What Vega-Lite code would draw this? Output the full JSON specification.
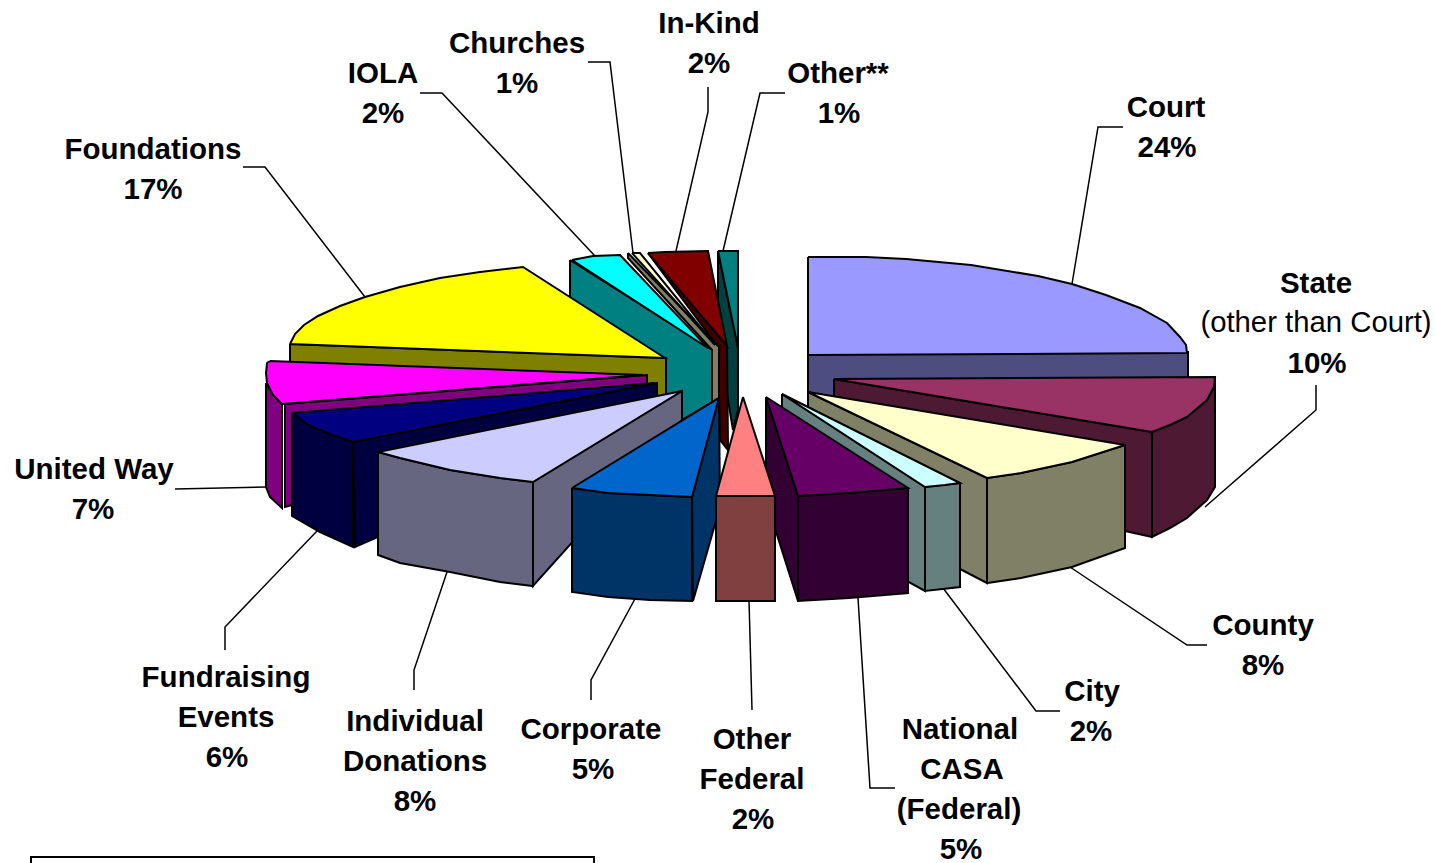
{"$schema":"https://vega.github.io/schema/vega-lite/v6.json","width":1435,"height":863,"padding":0,"autosize":"none","background":"white","view":{"stroke":null},
"datasets":{"faces":[
{"poly":"Court side","n":1,"x":808,"y":354},{"poly":"Court side","n":2,"x":1188,"y":352},{"poly":"Court side","n":3,"x":1188,"y":400},{"poly":"Court side","n":4,"x":808,"y":400},{"poly":"Court side","n":5,"x":808,"y":354},
{"poly":"Court top","n":1,"x":808,"y":257},{"poly":"Court top","n":2,"x":866,"y":257},{"poly":"Court top","n":3,"x":906,"y":259},{"poly":"Court top","n":4,"x":971,"y":265},{"poly":"Court top","n":5,"x":1038,"y":276},{"poly":"Court top","n":6,"x":1072,"y":284},{"poly":"Court top","n":7,"x":1106,"y":295},{"poly":"Court top","n":8,"x":1140,"y":308},{"poly":"Court top","n":9,"x":1167,"y":323},{"poly":"Court top","n":10,"x":1180,"y":337},{"poly":"Court top","n":11,"x":1186,"y":345},{"poly":"Court top","n":12,"x":1187,"y":353},{"poly":"Court top","n":13,"x":808,"y":355},{"poly":"Court top","n":14,"x":808,"y":257},
{"poly":"State inner","n":1,"x":834,"y":379},{"poly":"State inner","n":2,"x":1152,"y":432},{"poly":"State inner","n":3,"x":1152,"y":537},{"poly":"State inner","n":4,"x":1125,"y":531},{"poly":"State inner","n":5,"x":834,"y":450},{"poly":"State inner","n":6,"x":834,"y":379},
{"poly":"State front","n":1,"x":1152,"y":432},{"poly":"State front","n":2,"x":1170,"y":425},{"poly":"State front","n":3,"x":1187,"y":417},{"poly":"State front","n":4,"x":1207,"y":400},{"poly":"State front","n":5,"x":1214,"y":387},{"poly":"State front","n":6,"x":1215,"y":377},{"poly":"State front","n":7,"x":1215,"y":487},{"poly":"State front","n":8,"x":1207,"y":500},{"poly":"State front","n":9,"x":1187,"y":518},{"poly":"State front","n":10,"x":1170,"y":528},{"poly":"State front","n":11,"x":1152,"y":537},{"poly":"State front","n":12,"x":1152,"y":432},
{"poly":"State top","n":1,"x":834,"y":379},{"poly":"State top","n":2,"x":1215,"y":377},{"poly":"State top","n":3,"x":1214,"y":387},{"poly":"State top","n":4,"x":1207,"y":400},{"poly":"State top","n":5,"x":1187,"y":417},{"poly":"State top","n":6,"x":1170,"y":425},{"poly":"State top","n":7,"x":1152,"y":432},{"poly":"State top","n":8,"x":834,"y":379},
{"poly":"County inner","n":1,"x":808,"y":392},{"poly":"County inner","n":2,"x":987,"y":478},{"poly":"County inner","n":3,"x":987,"y":583},{"poly":"County inner","n":4,"x":960,"y":569},{"poly":"County inner","n":5,"x":808,"y":490},{"poly":"County inner","n":6,"x":808,"y":392},
{"poly":"County front","n":1,"x":987,"y":478},{"poly":"County front","n":2,"x":1021,"y":473},{"poly":"County front","n":3,"x":1072,"y":462},{"poly":"County front","n":4,"x":1125,"y":445},{"poly":"County front","n":5,"x":1125,"y":548},{"poly":"County front","n":6,"x":1072,"y":567},{"poly":"County front","n":7,"x":1021,"y":578},{"poly":"County front","n":8,"x":987,"y":583},{"poly":"County front","n":9,"x":987,"y":478},
{"poly":"County top","n":1,"x":808,"y":392},{"poly":"County top","n":2,"x":1125,"y":445},{"poly":"County top","n":3,"x":1072,"y":462},{"poly":"County top","n":4,"x":1021,"y":473},{"poly":"County top","n":5,"x":987,"y":478},{"poly":"County top","n":6,"x":808,"y":392},
{"poly":"City inner","n":1,"x":782,"y":394},{"poly":"City inner","n":2,"x":925,"y":487},{"poly":"City inner","n":3,"x":925,"y":591},{"poly":"City inner","n":4,"x":905,"y":580},{"poly":"City inner","n":5,"x":782,"y":480},{"poly":"City inner","n":6,"x":782,"y":394},
{"poly":"City front","n":1,"x":925,"y":487},{"poly":"City front","n":2,"x":960,"y":483},{"poly":"City front","n":3,"x":960,"y":587},{"poly":"City front","n":4,"x":925,"y":591},{"poly":"City front","n":5,"x":925,"y":487},
{"poly":"City top","n":1,"x":782,"y":394},{"poly":"City top","n":2,"x":960,"y":483},{"poly":"City top","n":3,"x":945,"y":485},{"poly":"City top","n":4,"x":925,"y":487},{"poly":"City top","n":5,"x":782,"y":394},
{"poly":"CASA inner","n":1,"x":766,"y":397},{"poly":"CASA inner","n":2,"x":798,"y":496},{"poly":"CASA inner","n":3,"x":798,"y":601},{"poly":"CASA inner","n":4,"x":766,"y":500},{"poly":"CASA inner","n":5,"x":766,"y":397},
{"poly":"CASA front","n":1,"x":798,"y":496},{"poly":"CASA front","n":2,"x":849,"y":493},{"poly":"CASA front","n":3,"x":908,"y":488},{"poly":"CASA front","n":4,"x":908,"y":593},{"poly":"CASA front","n":5,"x":849,"y":598},{"poly":"CASA front","n":6,"x":798,"y":601},{"poly":"CASA front","n":7,"x":798,"y":496},
{"poly":"CASA top","n":1,"x":766,"y":397},{"poly":"CASA top","n":2,"x":908,"y":488},{"poly":"CASA top","n":3,"x":849,"y":493},{"poly":"CASA top","n":4,"x":798,"y":496},{"poly":"CASA top","n":5,"x":766,"y":397},
{"poly":"Other side","n":1,"x":718,"y":251},{"poly":"Other side","n":2,"x":738,"y":348},{"poly":"Other side","n":3,"x":738,"y":410},{"poly":"Other side","n":4,"x":733,"y":430},{"poly":"Other side","n":5,"x":728,"y":400},{"poly":"Other side","n":6,"x":718,"y":350},{"poly":"Other side","n":7,"x":718,"y":251},
{"poly":"Other top","n":1,"x":718,"y":251},{"poly":"Other top","n":2,"x":738,"y":251},{"poly":"Other top","n":3,"x":738,"y":348},{"poly":"Other top","n":4,"x":718,"y":251},
{"poly":"In-Kind side","n":1,"x":648,"y":253},{"poly":"In-Kind side","n":2,"x":727,"y":346},{"poly":"In-Kind side","n":3,"x":728,"y":450},{"poly":"In-Kind side","n":4,"x":720,"y":440},{"poly":"In-Kind side","n":5,"x":718,"y":347},{"poly":"In-Kind side","n":6,"x":648,"y":253},
{"poly":"In-Kind top","n":1,"x":648,"y":253},{"poly":"In-Kind top","n":2,"x":665,"y":252},{"poly":"In-Kind top","n":3,"x":708,"y":251},{"poly":"In-Kind top","n":4,"x":727,"y":346},{"poly":"In-Kind top","n":5,"x":648,"y":253},
{"poly":"IOLA side","n":1,"x":570,"y":260},{"poly":"IOLA side","n":2,"x":712,"y":350},{"poly":"IOLA side","n":3,"x":712,"y":402},{"poly":"IOLA side","n":4,"x":682,"y":420},{"poly":"IOLA side","n":5,"x":660,"y":400},{"poly":"IOLA side","n":6,"x":570,"y":300},{"poly":"IOLA side","n":7,"x":570,"y":260},
{"poly":"IOLA top","n":1,"x":572,"y":260},{"poly":"IOLA top","n":2,"x":593,"y":256},{"poly":"IOLA top","n":3,"x":620,"y":255},{"poly":"IOLA top","n":4,"x":708,"y":348},{"poly":"IOLA top","n":5,"x":572,"y":260},
{"poly":"Churches side","n":1,"x":628,"y":253},{"poly":"Churches side","n":2,"x":719,"y":347},{"poly":"Churches side","n":3,"x":719,"y":398},{"poly":"Churches side","n":4,"x":712,"y":402},{"poly":"Churches side","n":5,"x":712,"y":350},{"poly":"Churches side","n":6,"x":628,"y":258},{"poly":"Churches side","n":7,"x":628,"y":253},
{"poly":"Churches top","n":1,"x":632,"y":253},{"poly":"Churches top","n":2,"x":640,"y":253},{"poly":"Churches top","n":3,"x":715,"y":345},{"poly":"Churches top","n":4,"x":632,"y":253},
{"poly":"Foundations side","n":1,"x":290,"y":344},{"poly":"Foundations side","n":2,"x":666,"y":358},{"poly":"Foundations side","n":3,"x":666,"y":398},{"poly":"Foundations side","n":4,"x":290,"y":380},{"poly":"Foundations side","n":5,"x":290,"y":344},
{"poly":"Foundations top","n":1,"x":290,"y":344},{"poly":"Foundations top","n":2,"x":295,"y":334},{"poly":"Foundations top","n":3,"x":304,"y":325},{"poly":"Foundations top","n":4,"x":318,"y":316},{"poly":"Foundations top","n":5,"x":340,"y":306},{"poly":"Foundations top","n":6,"x":365,"y":297},{"poly":"Foundations top","n":7,"x":400,"y":287},{"poly":"Foundations top","n":8,"x":440,"y":278},{"poly":"Foundations top","n":9,"x":480,"y":272},{"poly":"Foundations top","n":10,"x":523,"y":267},{"poly":"Foundations top","n":11,"x":665,"y":358},{"poly":"Foundations top","n":12,"x":290,"y":344},
{"poly":"United Way inner","n":1,"x":285,"y":404},{"poly":"United Way inner","n":2,"x":647,"y":375},{"poly":"United Way inner","n":3,"x":647,"y":410},{"poly":"United Way inner","n":4,"x":285,"y":507},{"poly":"United Way inner","n":5,"x":285,"y":404},
{"poly":"United Way front","n":1,"x":266,"y":383},{"poly":"United Way front","n":2,"x":273,"y":395},{"poly":"United Way front","n":3,"x":282,"y":404},{"poly":"United Way front","n":4,"x":282,"y":508},{"poly":"United Way front","n":5,"x":270,"y":497},{"poly":"United Way front","n":6,"x":266,"y":487},{"poly":"United Way front","n":7,"x":266,"y":383},
{"poly":"United Way top","n":1,"x":270,"y":361},{"poly":"United Way top","n":2,"x":643,"y":375},{"poly":"United Way top","n":3,"x":282,"y":404},{"poly":"United Way top","n":4,"x":273,"y":395},{"poly":"United Way top","n":5,"x":267,"y":383},{"poly":"United Way top","n":6,"x":266,"y":373},{"poly":"United Way top","n":7,"x":267,"y":363},{"poly":"United Way top","n":8,"x":270,"y":361},
{"poly":"Fundraising inner","n":1,"x":353,"y":442},{"poly":"Fundraising inner","n":2,"x":657,"y":383},{"poly":"Fundraising inner","n":3,"x":657,"y":415},{"poly":"Fundraising inner","n":4,"x":355,"y":547},{"poly":"Fundraising inner","n":5,"x":353,"y":442},
{"poly":"Fundraising front","n":1,"x":292,"y":413},{"poly":"Fundraising front","n":2,"x":310,"y":426},{"poly":"Fundraising front","n":3,"x":330,"y":434},{"poly":"Fundraising front","n":4,"x":353,"y":442},{"poly":"Fundraising front","n":5,"x":353,"y":547},{"poly":"Fundraising front","n":6,"x":320,"y":532},{"poly":"Fundraising front","n":7,"x":292,"y":516},{"poly":"Fundraising front","n":8,"x":292,"y":413},
{"poly":"Fundraising top","n":1,"x":292,"y":413},{"poly":"Fundraising top","n":2,"x":655,"y":383},{"poly":"Fundraising top","n":3,"x":353,"y":442},{"poly":"Fundraising top","n":4,"x":330,"y":434},{"poly":"Fundraising top","n":5,"x":310,"y":426},{"poly":"Fundraising top","n":6,"x":292,"y":413},
{"poly":"Individual inner","n":1,"x":533,"y":482},{"poly":"Individual inner","n":2,"x":682,"y":391},{"poly":"Individual inner","n":3,"x":682,"y":420},{"poly":"Individual inner","n":4,"x":533,"y":586},{"poly":"Individual inner","n":5,"x":533,"y":482},
{"poly":"Individual front","n":1,"x":378,"y":452},{"poly":"Individual front","n":2,"x":400,"y":458},{"poly":"Individual front","n":3,"x":450,"y":470},{"poly":"Individual front","n":4,"x":500,"y":478},{"poly":"Individual front","n":5,"x":533,"y":482},{"poly":"Individual front","n":6,"x":533,"y":586},{"poly":"Individual front","n":7,"x":500,"y":582},{"poly":"Individual front","n":8,"x":450,"y":572},{"poly":"Individual front","n":9,"x":400,"y":563},{"poly":"Individual front","n":10,"x":378,"y":555},{"poly":"Individual front","n":11,"x":378,"y":452},
{"poly":"Individual top","n":1,"x":378,"y":452},{"poly":"Individual top","n":2,"x":682,"y":391},{"poly":"Individual top","n":3,"x":533,"y":482},{"poly":"Individual top","n":4,"x":500,"y":478},{"poly":"Individual top","n":5,"x":450,"y":470},{"poly":"Individual top","n":6,"x":400,"y":458},{"poly":"Individual top","n":7,"x":378,"y":452},
{"poly":"Corporate inner","n":1,"x":692,"y":497},{"poly":"Corporate inner","n":2,"x":719,"y":398},{"poly":"Corporate inner","n":3,"x":720,"y":507},{"poly":"Corporate inner","n":4,"x":693,"y":601},{"poly":"Corporate inner","n":5,"x":692,"y":497},
{"poly":"Corporate front","n":1,"x":572,"y":488},{"poly":"Corporate front","n":2,"x":608,"y":493},{"poly":"Corporate front","n":3,"x":692,"y":497},{"poly":"Corporate front","n":4,"x":692,"y":601},{"poly":"Corporate front","n":5,"x":650,"y":600},{"poly":"Corporate front","n":6,"x":608,"y":597},{"poly":"Corporate front","n":7,"x":572,"y":592},{"poly":"Corporate front","n":8,"x":572,"y":488},
{"poly":"Corporate top","n":1,"x":572,"y":488},{"poly":"Corporate top","n":2,"x":719,"y":398},{"poly":"Corporate top","n":3,"x":692,"y":497},{"poly":"Corporate top","n":4,"x":608,"y":493},{"poly":"Corporate top","n":5,"x":572,"y":488},
{"poly":"Other Federal front","n":1,"x":716,"y":496},{"poly":"Other Federal front","n":2,"x":775,"y":496},{"poly":"Other Federal front","n":3,"x":775,"y":601},{"poly":"Other Federal front","n":4,"x":716,"y":601},{"poly":"Other Federal front","n":5,"x":716,"y":496},
{"poly":"Other Federal top","n":1,"x":743,"y":397},{"poly":"Other Federal top","n":2,"x":775,"y":496},{"poly":"Other Federal top","n":3,"x":716,"y":496},{"poly":"Other Federal top","n":4,"x":743,"y":397}
],
"leaders":[
{"lead":"Court","n":1,"x":1123,"y":127},{"lead":"Court","n":2,"x":1098,"y":127},{"lead":"Court","n":3,"x":1072,"y":284},
{"lead":"State","n":1,"x":1316,"y":385},{"lead":"State","n":2,"x":1316,"y":410},{"lead":"State","n":3,"x":1205,"y":507},
{"lead":"County","n":1,"x":1207,"y":645},{"lead":"County","n":2,"x":1187,"y":645},{"lead":"County","n":3,"x":1070,"y":567},
{"lead":"City","n":1,"x":1060,"y":711},{"lead":"City","n":2,"x":1036,"y":711},{"lead":"City","n":3,"x":943,"y":588},
{"lead":"CASA","n":1,"x":895,"y":788},{"lead":"CASA","n":2,"x":870,"y":788},{"lead":"CASA","n":3,"x":858,"y":598},
{"lead":"Other Federal","n":1,"x":752,"y":710},{"lead":"Other Federal","n":2,"x":749,"y":600},
{"lead":"Corporate","n":1,"x":591,"y":700},{"lead":"Corporate","n":2,"x":591,"y":680},{"lead":"Corporate","n":3,"x":636,"y":597},
{"lead":"Individual","n":1,"x":414,"y":690},{"lead":"Individual","n":2,"x":414,"y":670},{"lead":"Individual","n":3,"x":447,"y":572},
{"lead":"Fundraising","n":1,"x":225,"y":650},{"lead":"Fundraising","n":2,"x":225,"y":627},{"lead":"Fundraising","n":3,"x":317,"y":531},
{"lead":"United Way","n":1,"x":175,"y":489},{"lead":"United Way","n":2,"x":266,"y":487},
{"lead":"Foundations","n":1,"x":243,"y":167},{"lead":"Foundations","n":2,"x":265,"y":167},{"lead":"Foundations","n":3,"x":365,"y":297},
{"lead":"IOLA","n":1,"x":420,"y":93},{"lead":"IOLA","n":2,"x":442,"y":93},{"lead":"IOLA","n":3,"x":595,"y":256},
{"lead":"Churches","n":1,"x":588,"y":62},{"lead":"Churches","n":2,"x":610,"y":62},{"lead":"Churches","n":3,"x":633,"y":253},
{"lead":"In-Kind","n":1,"x":708,"y":87},{"lead":"In-Kind","n":2,"x":708,"y":112},{"lead":"In-Kind","n":3,"x":676,"y":251},
{"lead":"Other","n":1,"x":785,"y":93},{"lead":"Other","n":2,"x":760,"y":93},{"lead":"Other","n":3,"x":723,"y":251}
],
"box":[{"n":1,"x":31,"y":866},{"n":2,"x":31,"y":857},{"n":3,"x":594,"y":857},{"n":4,"x":594,"y":866}],
"labels":[
{"t":"Court","x":1166,"y":117},{"t":"24%","x":1167,"y":157},{"t":"State","x":1316,"y":293},{"t":"10%","x":1317,"y":373},{"t":"County","x":1263,"y":635},{"t":"8%","x":1263,"y":675},{"t":"City","x":1092,"y":701},{"t":"2%","x":1091,"y":741},{"t":"National","x":960,"y":739},{"t":"CASA","x":962,"y":779},{"t":"(Federal)","x":959,"y":819},{"t":"5%","x":961,"y":859},{"t":"Other","x":752,"y":749},{"t":"Federal","x":752,"y":789},{"t":"2%","x":753,"y":829},{"t":"Corporate","x":591,"y":739},{"t":"5%","x":593,"y":779},{"t":"Individual","x":415,"y":731},{"t":"Donations","x":415,"y":771},{"t":"8%","x":415,"y":811},{"t":"Fundraising","x":226,"y":687},{"t":"Events","x":226,"y":727},{"t":"6%","x":227,"y":767},{"t":"United Way","x":94,"y":479},{"t":"7%","x":93,"y":519},{"t":"Foundations","x":153,"y":159},{"t":"17%","x":153,"y":199},{"t":"IOLA","x":383,"y":83},{"t":"2%","x":383,"y":123},{"t":"Churches","x":517,"y":53},{"t":"1%","x":517,"y":93},{"t":"In-Kind","x":709,"y":33},{"t":"2%","x":709,"y":73},{"t":"Other**","x":838,"y":83},{"t":"1%","x":839,"y":123}
],
"plainlabels":[{"t":"(other than Court)","x":1316,"y":332}]
},
"encoding":{"x":{"field":"x","type":"quantitative","axis":null,"scale":{"domain":[0,1435],"nice":false,"zero":false}},"y":{"field":"y","type":"quantitative","axis":null,"scale":{"domain":[863,0],"nice":false,"zero":false}}},
"layer":[
{"data":{"name":"leaders"},"mark":{"type":"line","stroke":"black","strokeWidth":1.5},"encoding":{"detail":{"field":"lead"},"order":{"field":"n","type":"quantitative"}}},
{"data":{"name":"faces"},"mark":{"type":"line","stroke":"black","strokeWidth":2,"strokeJoin":"miter"},"encoding":{"order":{"field":"n","type":"quantitative"},"fill":{"field":"poly","type":"nominal","legend":null,"sort":null,"scale":{"domain":["Court side","Court top","State inner","State front","State top","County inner","County front","County top","City inner","City front","City top","CASA inner","CASA front","CASA top","Other side","Other top","In-Kind side","In-Kind top","IOLA side","IOLA top","Churches side","Churches top","Foundations side","Foundations top","United Way inner","United Way front","United Way top","Fundraising inner","Fundraising front","Fundraising top","Individual inner","Individual front","Individual top","Corporate inner","Corporate front","Corporate top","Other Federal front","Other Federal top"],"range":["#4D4D80","#9999FF","#4D1933","#4D1933","#993366","#808066","#808066","#FFFFCC","#668080","#668080","#CCFFFF","#330033","#330033","#660066","#004040","#008080","#400000","#800000","#008080","#00FFFF","#808066","#FFFFCC","#808000","#FFFF00","#800080","#800080","#FF00FF","#000040","#000040","#000080","#666680","#666680","#CCCCFF","#003366","#003366","#0066CC","#804040","#FF8080"]}}}},
{"data":{"name":"box"},"mark":{"type":"line","stroke":"black","strokeWidth":2,"clip":false},"encoding":{"order":{"field":"n","type":"quantitative"}}},
{"data":{"name":"labels"},"mark":{"type":"text","font":"Liberation Sans","fontSize":29.5,"fontWeight":"bold","align":"center","baseline":"alphabetic","fill":"black"},"encoding":{"text":{"field":"t"}}},
{"data":{"name":"plainlabels"},"mark":{"type":"text","font":"Liberation Sans","fontSize":29.3,"fontWeight":"normal","align":"center","baseline":"alphabetic","fill":"black"},"encoding":{"text":{"field":"t"}}}
]}
